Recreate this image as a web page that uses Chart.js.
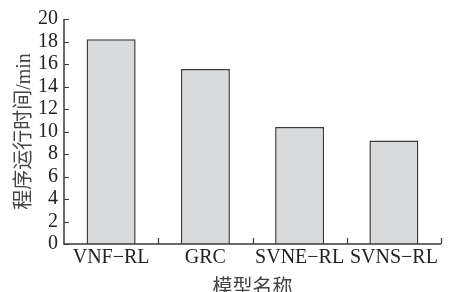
<!DOCTYPE html>
<html>
<head>
<meta charset="utf-8">
<script src="https://cdn.jsdelivr.net/npm/chart.js@4/dist/chart.umd.min.js"></script>
<style>
  html, body { margin: 0; padding: 0; background: #fff; }
  #wrap { width: 469px; height: 292px; }
</style>
</head>
<body>
<div id="wrap"><canvas id="grafico"></canvas></div>
<script>
// --- dados ---
const modelos = ['VNF\u2212RL', 'GRC', 'SVNE\u2212RL', 'SVNS\u2212RL'];
const tempos = [18.2, 15.55, 10.4, 9.2];
const ticksY = [0, 2, 4, 6, 8, 10, 12, 14, 16, 18, 20];

const FONTE = "'Liberation Serif', 'Noto Sans CJK SC', serif";
const COR_EIXO = '#3a3a3a';

// Eixos com ticks para dentro (estilo de artigo)
const eixosInternos = {
    id: 'eixosInternos',
    afterDatasetsDraw(chart) {
        const { ctx, chartArea: { left, right, top, bottom }, scales: { x, y } } = chart;
        ctx.save();
        ctx.strokeStyle = COR_EIXO;
        ctx.lineWidth = 1.5;
        ctx.beginPath();
        ctx.moveTo(left, top);
        ctx.lineTo(left, bottom);
        ctx.lineTo(right, bottom);
        ctx.stroke();

        ctx.lineWidth = 1.2;
        ctx.beginPath();
        ticksY.forEach(v => {
            const py = Math.round(y.getPixelForValue(v)) + 0.5;
            ctx.moveTo(left, py);
            ctx.lineTo(left + 5, py);
        });
        // ticks do eixo x nas fronteiras das categorias
        const passo = (x.right - x.left) / modelos.length;
        for (let i = 1; i <= modelos.length; i++) {
            const px = Math.round(x.getPixelForValue(i - 1) + passo / 2) + 0.5;
            ctx.moveTo(px, bottom);
            ctx.lineTo(px, bottom - 6);
        }
        ctx.stroke();
        ctx.restore();
    }
};

new Chart(document.getElementById('grafico'), {
    type: 'bar',
    data: {
        labels: modelos,
        datasets: [{
            data: tempos,
            backgroundColor: '#d9dadc',
            borderColor: '#3a3a3a',
            borderWidth: 1.5,
            categoryPercentage: 1,
            barPercentage: 0.52
        }]
    },
    options: {
        responsive: true,
        maintainAspectRatio: false,
        animation: false,
        layout: { padding: { top: 19, right: 28, left: 0, bottom: 0 } },
        plugins: {
            legend: { display: false },
            tooltip: { enabled: false }
        },
        scales: {
            x: {
                offset: true,
                grid: { display: false, drawTicks: false },
                border: { display: false },
                ticks: {
                    color: '#222',
                    font: { family: FONTE, size: 20 },
                    padding: 2,
                    maxRotation: 0,
                    autoSkip: false
                },
                title: {
                    display: true,
                    text: '模型名称',
                    color: '#444',
                    font: { family: FONTE, size: 20, lineHeight: 1 },
                    padding: { top: 0, bottom: -7 }
                },
                afterFit: (s) => { s.height = 48; }
            },
            y: {
                min: 0,
                max: 20,
                grid: { display: false, drawTicks: false },
                border: { display: false },
                afterBuildTicks: (s) => { s.ticks = ticksY.map(v => ({ value: v })); },
                ticks: {
                    color: '#222',
                    font: { family: FONTE, size: 20 },
                    padding: 6,
                    autoSkip: false
                },
                title: {
                    display: true,
                    text: '程序运行时间/min',
                    color: '#444',
                    font: { family: FONTE, size: 20, lineHeight: 1 },
                    padding: { top: 15, bottom: 0 }
                },
                afterFit: (s) => { s.width = 64; }
            }
        }
    },
    plugins: [eixosInternos]
});
</script>
</body>
</html>
